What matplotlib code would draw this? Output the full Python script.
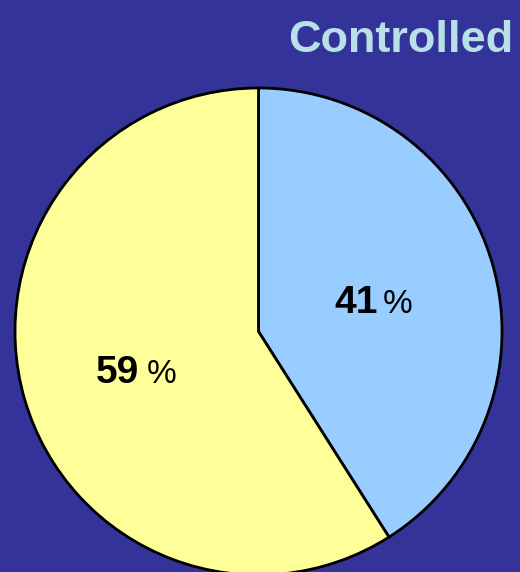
import matplotlib
matplotlib.use("Agg")
import matplotlib.pyplot as plt

# share of respondents per group
labels = ["41", "59"]
shares = [41, 59]
colors = ["#99CCFF", "#FFFF99"]
title = "Controlled"

W, H = 520, 572
fig = plt.figure(figsize=(W / 100, H / 100), dpi=100, facecolor="#333399")
ax = fig.add_axes([0, 0, 1, 1])
ax.set_facecolor("#333399")

ax.pie(shares, colors=colors, startangle=90, counterclock=False,
       center=(258.5, H - 331.5), radius=243.5,
       wedgeprops=dict(edgecolor="black", linewidth=2.0))

ax.set_xlim(0, W)
ax.set_ylim(0, H)
ax.set_aspect("equal")
ax.axis("off")

font = "Liberation Sans"
ax.text(288, H - 52, title, fontsize=32.5, fontweight="bold", color="#B8E0E8",
        family=font, ha="left", va="baseline")

# value labels: bold number followed by a lighter percent sign
spots = [(334, H - 313, 383), (96, H - 383, 147)]
for lab, (x, y, px) in zip(labels, spots):
    ax.text(x, y, lab, fontsize=28, fontweight="bold", color="black",
            family=font, ha="left", va="baseline")
    ax.text(px, y, "%", fontsize=24, color="black", family=font,
            ha="left", va="baseline")

fig.savefig("out.png", dpi=100, facecolor=fig.get_facecolor())
